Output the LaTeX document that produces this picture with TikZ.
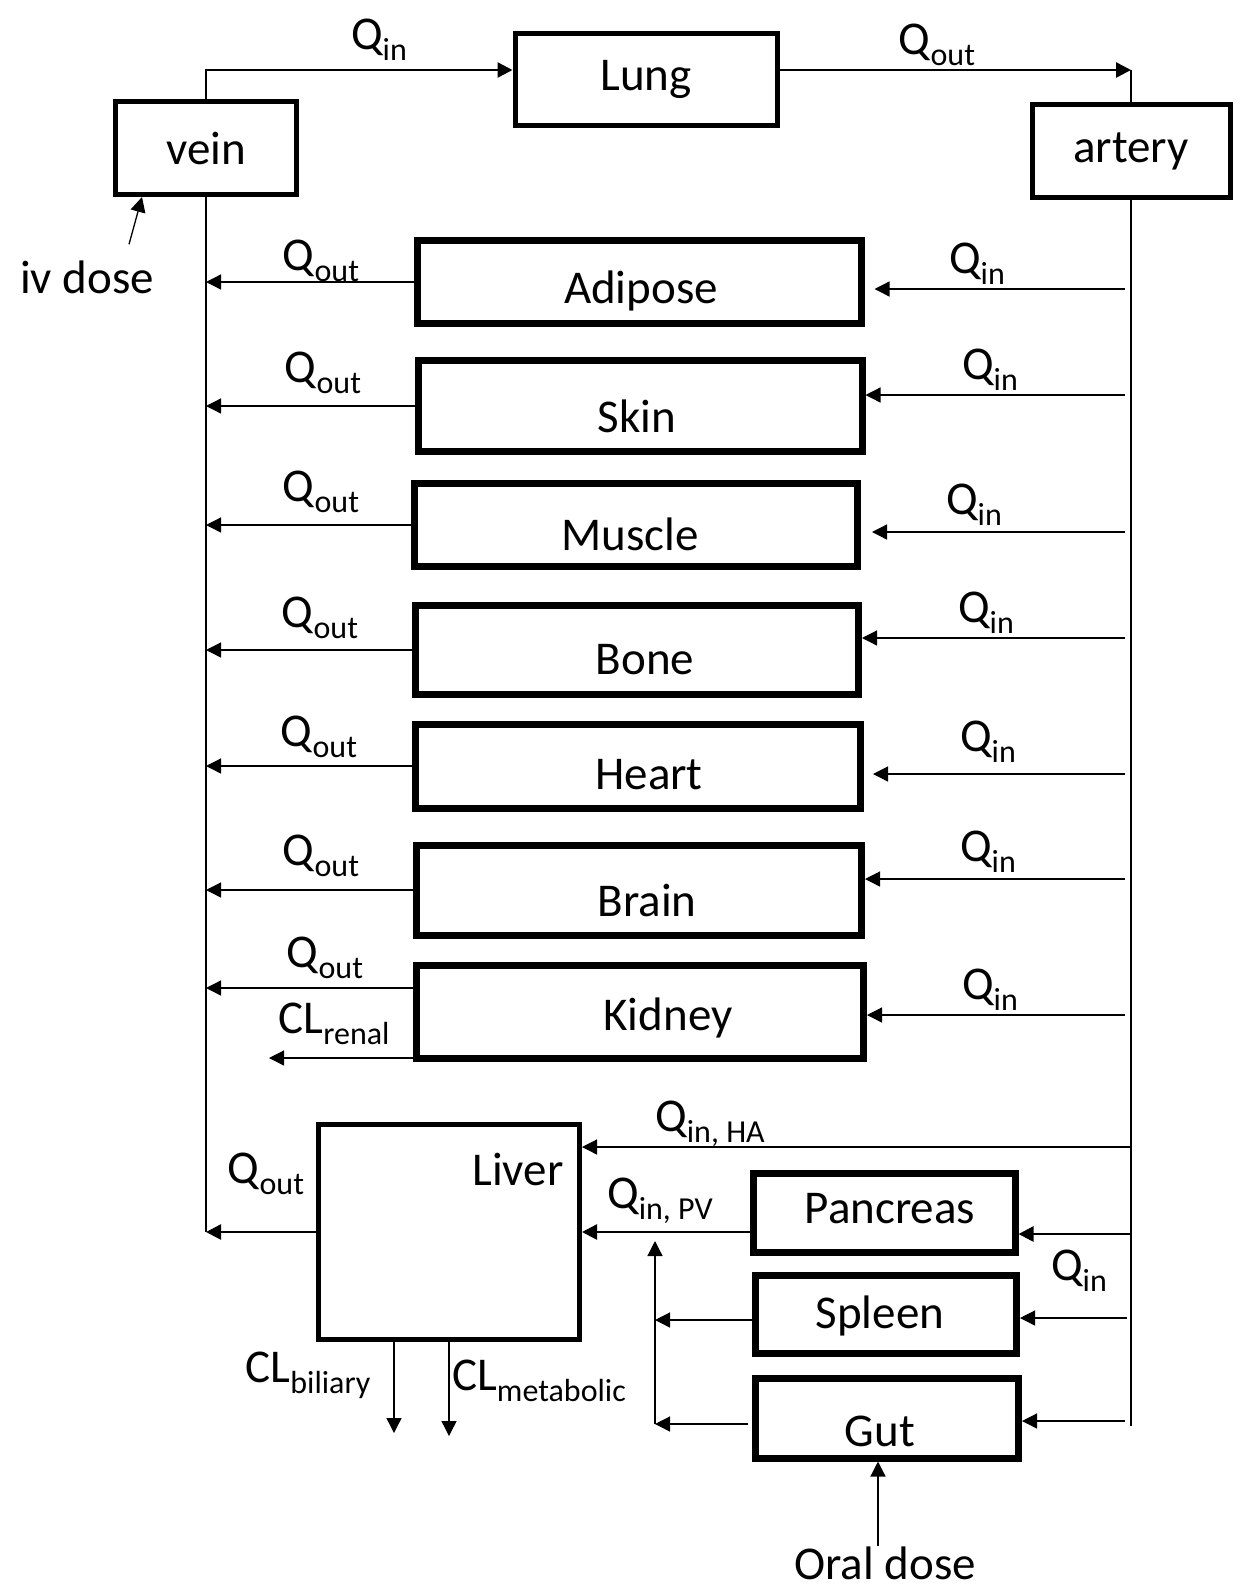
\documentclass[tikz,border=0pt]{standalone}
\usepackage{fontspec}
\setmainfont{Carlito}
\usetikzlibrary{arrows.meta,calc}
\newcommand{\bigtxt}{\fontsize{47}{56}\selectfont}
\newcommand{\subtxt}[1]{\raisebox{-11pt}{\fontsize{32}{38}\selectfont #1}}

\begin{document}
\begin{tikzpicture}[x=1pt,y=-1pt,
	box/.style={draw,line width=5pt,inner sep=0pt,font=\bigtxt},
	organ/.style={box,line width=7pt},
	lbl/.style={inner sep=0pt,font=\bigtxt},
	flow/.style={line width=1.3pt,-{Triangle[length=15pt,width=15pt]}},
	bigflow/.style={flow,line width=2.5pt}]
	\useasboundingbox (0,0) rectangle (1241,1591);
	% blood and lung
	\node[box,minimum width=181,minimum height=93] (vein) at (206,148) {vein};
	\node[box,minimum width=262,minimum height=92] (lung) at (646,79) {Lung};
	\node[box,minimum width=198,minimum height=93] (art) at (1131,151) {artery};
	\coordinate (vtop) at (206,70);
	\coordinate (atop) at (1131,70);
	\coordinate (abot) at (1131,1426);
	% organs
	\node[organ,minimum width=444,minimum height=83] (adi) at (639,282) {};
	\node[lbl] (adit) at (641,291) {Adipose};
	\node[organ,minimum width=444,minimum height=91] (skin) at (640,406) {};
	\node[lbl] (skint) at (637,416) {Skin};
	\node[organ,minimum width=443,minimum height=83] (mus) at (636,525) {};
	\node[lbl] (must) at (630,534) {Muscle};
	\node[organ,minimum width=443,minimum height=89] (bone) at (637,650) {};
	\node[lbl] (bonet) at (645,660) {Bone};
	\node[organ,minimum width=445,minimum height=84] (heart) at (638,766) {};
	\node[lbl] (heartt) at (649,775) {Heart};
	\node[organ,minimum width=445,minimum height=90] (brain) at (639,890) {};
	\node[lbl] (braint) at (647,900) {Brain};
	\node[organ,minimum width=447,minimum height=93] (kid) at (640,1012) {};
	\node[lbl] (kidt) at (668,1018) {Kidney};
	\node[box,minimum width=261,minimum height=215] (liver) at (449,1232) {};
	\node[lbl] (livert) at (518,1169) {Liver};
	\node[organ,minimum width=262,minimum height=79] (pan) at (884,1213) {};
	\node[lbl] (pant) at (890,1209) {Pancreas};
	\node[organ,minimum width=261,minimum height=78] (spl) at (886,1314) {};
	\node[lbl] (splt) at (880,1316) {Spleen};
	\node[organ,minimum width=263,minimum height=80] (gut) at (887,1418) {};
	\node[lbl] (gutt) at (880,1431) {Gut};
	\coordinate (renal) at (269,1058);
	\coordinate (pvtop) at (655,1241);
	\coordinate (bilend) at (394,1433);
	\coordinate (metend) at (449,1436);
	% labels
	\node[lbl] (qi0) at (379,40) {Q\subtxt{in}};
	\node[lbl] (qo0) at (937,45) {Q\subtxt{out}};
	\node[lbl] (oadi) at (321,261) {Q\subtxt{out}};
	\node[lbl] (iadi) at (977,264) {Q\subtxt{in}};
	\node[lbl] (oskin) at (323,373) {Q\subtxt{out}};
	\node[lbl] (iskin) at (990,370) {Q\subtxt{in}};
	\node[lbl] (omus) at (321,492) {Q\subtxt{out}};
	\node[lbl] (imus) at (974,505) {Q\subtxt{in}};
	\node[lbl] (obone) at (320,618) {Q\subtxt{out}};
	\node[lbl] (ibone) at (986,613) {Q\subtxt{in}};
	\node[lbl] (oheart) at (319,737) {Q\subtxt{out}};
	\node[lbl] (iheart) at (988,742) {Q\subtxt{in}};
	\node[lbl] (obrain) at (321,856) {Q\subtxt{out}};
	\node[lbl] (ibrain) at (988,852) {Q\subtxt{in}};
	\node[lbl] (okid) at (325,958) {Q\subtxt{out}};
	\node[lbl] (ikid) at (990,990) {Q\subtxt{in}};
	\node[lbl] (clren) at (334,1024) {CL\subtxt{renal}};
	\node[lbl] (qha) at (710,1124) {Q\subtxt{in, HA}};
	\node[lbl] (qpv) at (660,1201) {Q\subtxt{in, PV}};
	\node[lbl] (oliver) at (266,1174) {Q\subtxt{out}};
	\node[lbl] (ipan) at (1079,1271) {Q\subtxt{in}};
	\node[lbl] (clbil) at (308,1375) {CL\subtxt{biliary}};
	\node[lbl] (clmet) at (539,1381) {CL\subtxt{metabolic}};
	\node[lbl] (iv) at (87,277) {iv dose};
	\node[lbl] (oral) at (885,1563) {Oral dose};
	% flows
	\draw[bigflow] (vein.north) -- (vtop) -- (vtop -| lung.west);
	\draw[bigflow] (lung.east |- atop) -- (atop);
	\draw[line width=2.5pt] (atop) -- (art.north);
	\draw[line width=2pt] (vein.south) -- (vein.south |- liver.west);
	\draw[line width=2pt] (art.south) -- (abot);
	\draw[flow] (adi.west) -- (vein.south |- adi.west);
	\draw[flow] (skin.west) -- (vein.south |- skin.west);
	\draw[flow] (mus.west) -- (vein.south |- mus.west);
	\draw[flow] (bone.west) -- (vein.south |- bone.west);
	\draw[flow] (heart.west) -- (vein.south |- heart.west);
	\draw[flow] (brain.west) -- (vein.south |- brain.west);
	\draw[flow] ($(kid.west)+(0,-24)$) -- ($(vein.south |- kid.west)+(0,-24)$);
	\draw[flow] (renal -| kid.west) -- (renal);
	\draw[flow] ($(art.south |- adi.east)+(-6,7)$) -- ($(adi.east)+(10,7)$);
	\draw[flow] ($(art.south |- skin.east)+(-6,-11)$) -- ($(skin.east)+(0,-11)$);
	\draw[flow] ($(art.south |- mus.east)+(-6,7)$) -- ($(mus.east)+(11,7)$);
	\draw[flow] ($(art.south |- bone.east)+(-6,-12)$) -- ($(bone.east)+(0,-12)$);
	\draw[flow] ($(art.south |- heart.east)+(-6,8)$) -- ($(heart.east)+(9,8)$);
	\draw[flow] ($(art.south |- brain.east)+(-6,-11)$) -- ($(brain.east)+(0,-11)$);
	\draw[flow] ($(art.south |- kid.east)+(-6,3)$) -- ($(kid.east)+(0,3)$);
	\draw[flow] ($(art.south |- liver.north east)+(0,25)$) -- ($(liver.north east)+(0,25)$);
	\draw[bigflow] ($(art.south |- pan.east)+(0,21)$) -- ($(pan.east)+(0,21)$);
	\draw[flow] ($(art.south |- spl.east)+(-4,4)$) -- ($(spl.east)+(0,4)$);
	\draw[flow] ($(art.south |- gut.east)+(-6,3)$) -- ($(gut.east)+(0,3)$);
	\draw[bigflow] (pan.west |- liver.east) -- (liver.east);
	\draw[bigflow] (liver.west) -- (vein.south |- liver.west);
	\draw[flow] ($(spl.west)+(0,6)$) -- ($(pvtop |- spl.west)+(0,6)$);
	\draw[flow] ($(gut.west)+(-4,6)$) -- ($(pvtop |- gut.west)+(0,6)$);
	\draw[flow] ($(pvtop |- gut.west)+(0,6)$) -- (pvtop);
	\draw[flow] (bilend |- liver.south) -- (bilend);
	\draw[flow] (metend |- liver.south) -- (metend);
	\draw[flow] ($(oral.north)+(-7,0)$) -- ($(oral.north |- gut.south)+(-7,0)$);
	\draw[flow] ($(iv.north)+(42,-16)$) -- ($(vein.south west)+(29,0)$);
\end{tikzpicture}
\end{document}
